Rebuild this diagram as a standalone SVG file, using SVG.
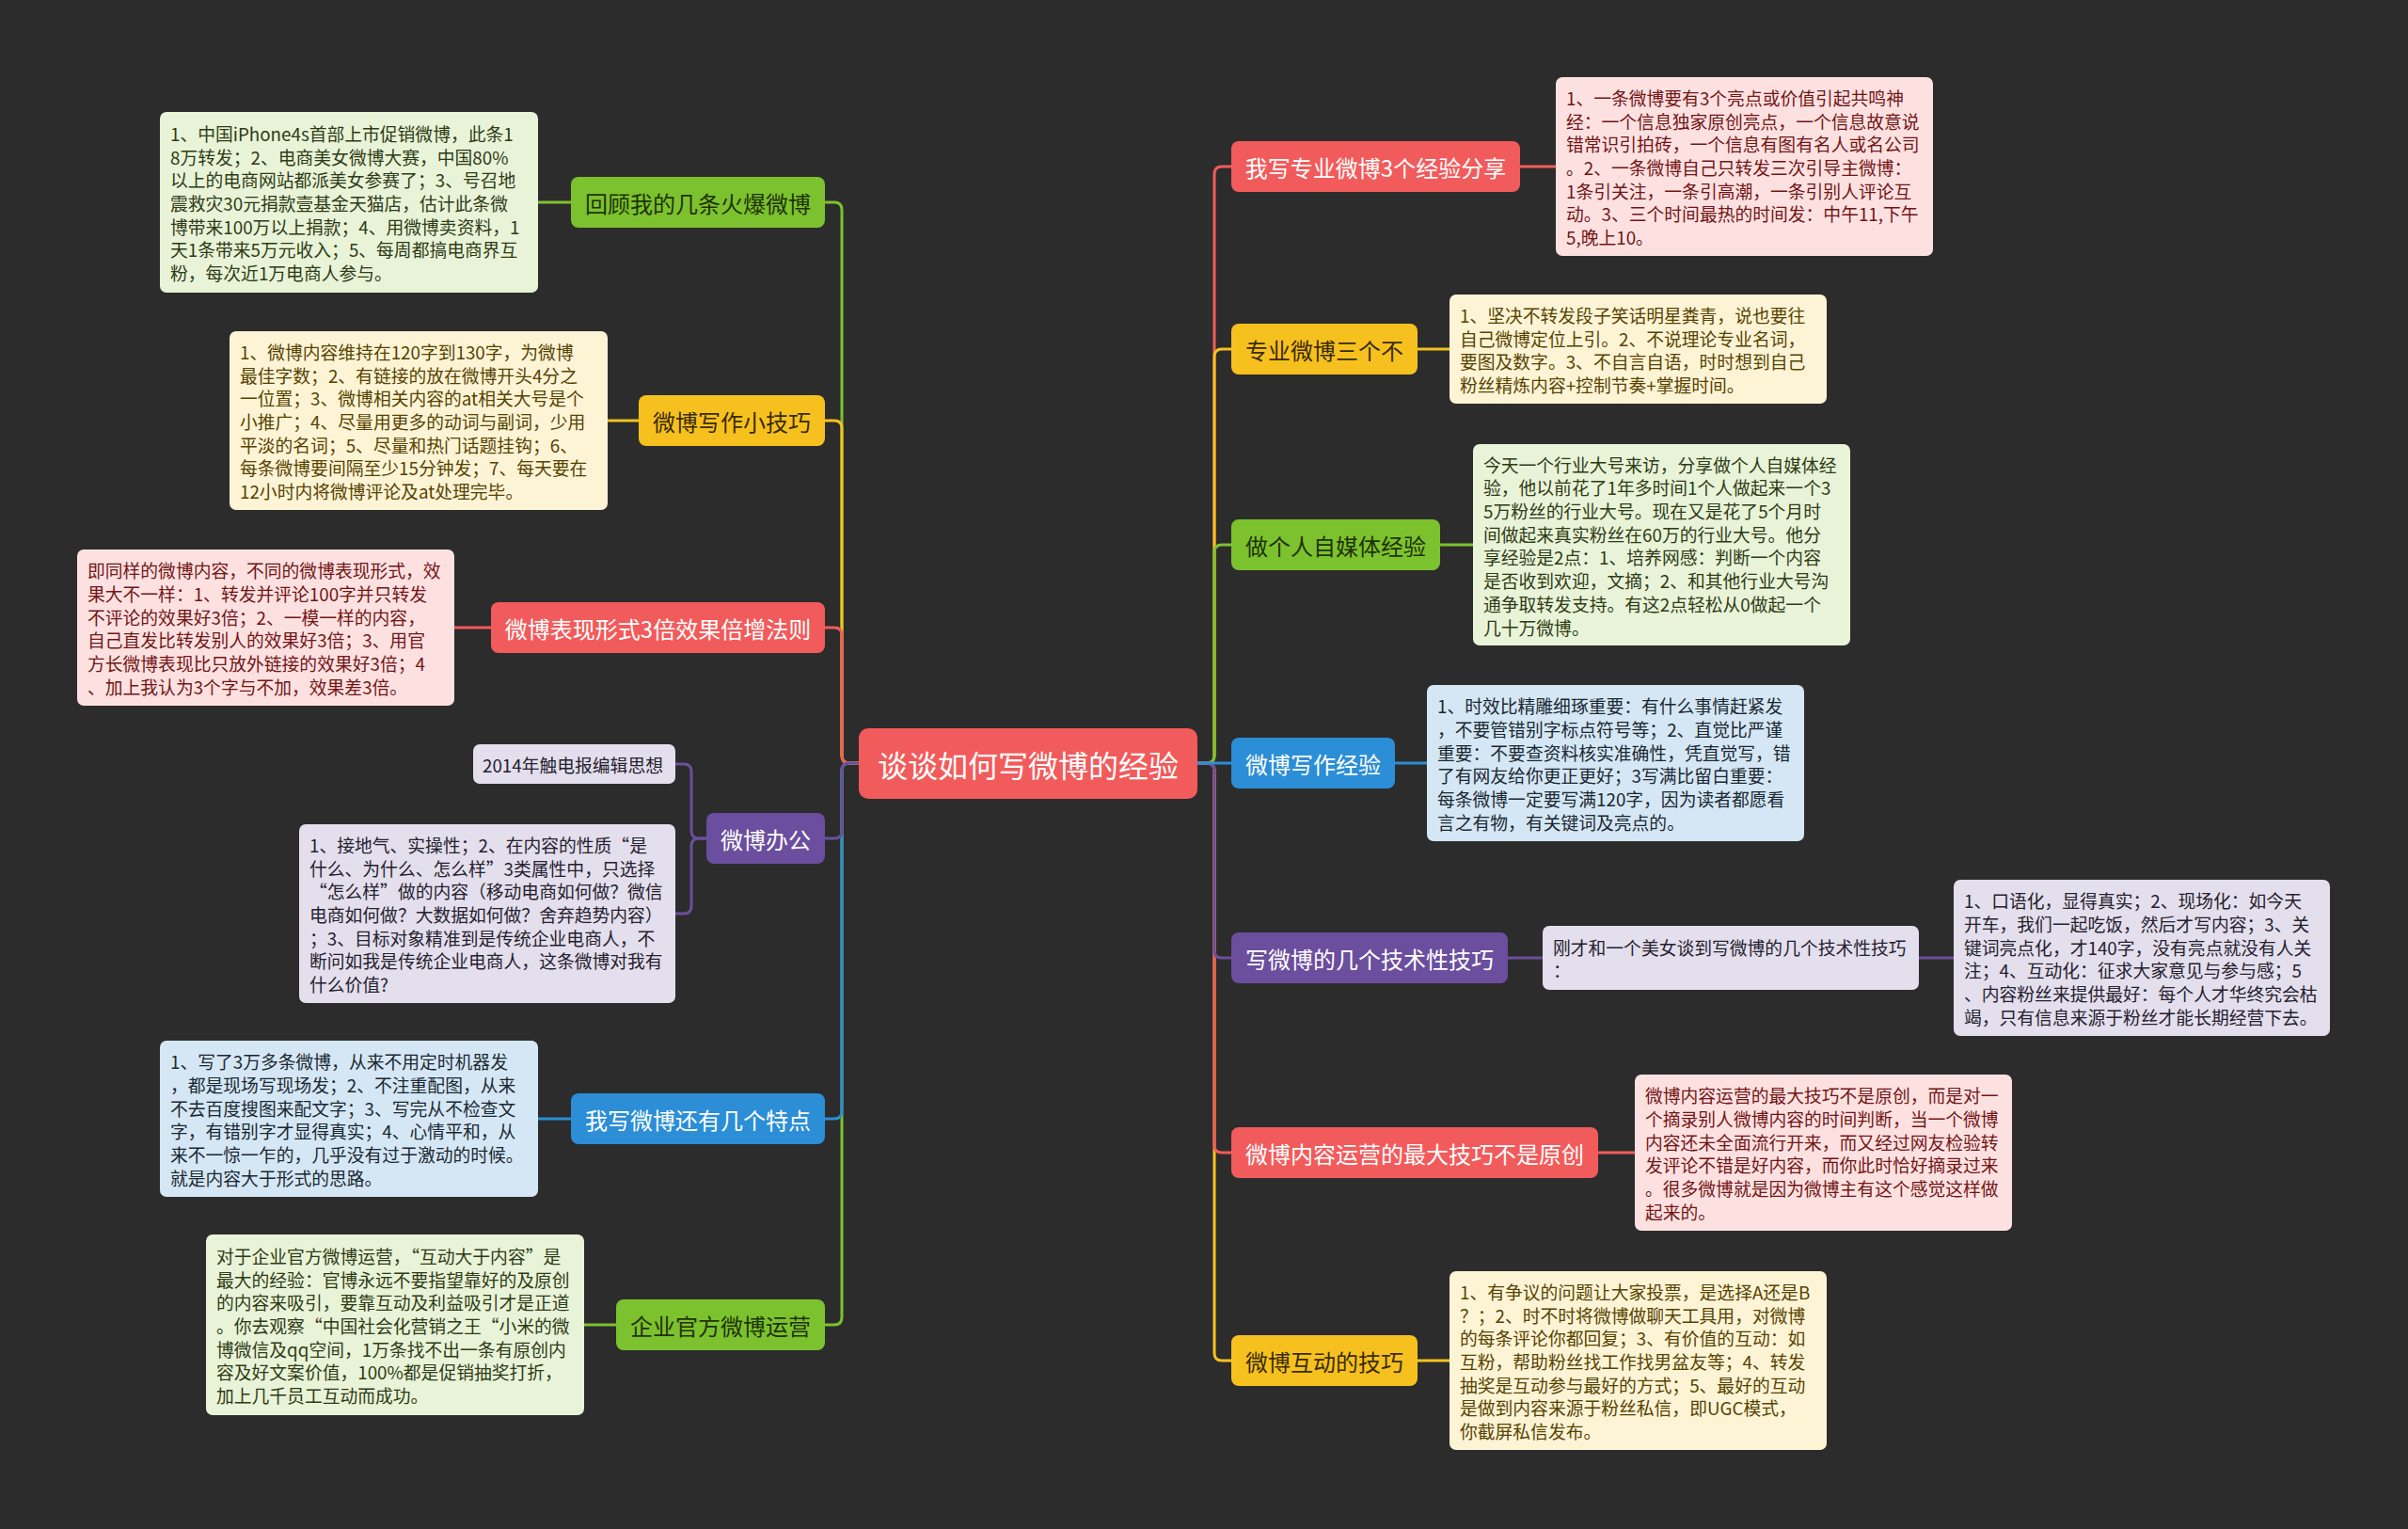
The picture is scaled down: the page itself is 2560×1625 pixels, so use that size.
<svg xmlns="http://www.w3.org/2000/svg" width="2560" height="1625" viewBox="0 0 2560 1625">
<style>
text{font-family:"Noto Sans CJK SC","Noto Sans",sans-serif;}
.tp{font-size:24px;text-anchor:middle;dominant-baseline:central;}
.ct{font-size:32px;text-anchor:middle;dominant-baseline:central;fill:#ffffff;}
.nt{font-size:18.8px;dominant-baseline:central;}
.ln{fill:none;stroke-width:3;stroke-linecap:round;stroke-linejoin:round;}
.cg{stroke:#7cc22e}.cy{stroke:#f6c11f}.cr{stroke:#f25b5b}.cp{stroke:#6b4e9d}.cb{stroke:#2b8ed6}
.fg{fill:#7cc22e}.fy{fill:#f6c11f}.fr{fill:#f25b5b}.fp{fill:#6b4e9d}.fb{fill:#2b8ed6}
.tg{fill:#1f3205}.ty{fill:#3a2b00}.tr{fill:#ffffff}.tpu{fill:#ffffff}.tb{fill:#ffffff}
.ng{fill:#e9f3d8}.ny{fill:#fdf4d6}.nr{fill:#fde1e1}.np{fill:#e3dfec}.nb{fill:#d5e7f4}
.xg{fill:#2e3b15}.xy{fill:#574300}.xr{fill:#731515}.xp{fill:#25212f}.xb{fill:#1a2833}
</style>
<rect x="0" y="0" width="2560" height="1625" fill="#2c2c2c"/>

<g id="connectors">
<path class="ln cg" d="M913,811 H903 Q895,811 895,819 V1400 Q895,1408 887,1408 H877"/>
<path class="ln cg" d="M913,811 H903 Q895,811 895,803 V223 Q895,215 887,215 H877"/>
<path class="ln cb" d="M913,811 H903 Q895,811 895,819 V1181 Q895,1189 887,1189 H877"/>
<path class="ln cy" d="M913,811 H903 Q895,811 895,803 V455 Q895,447 887,447 H877"/>
<path class="ln cr" d="M913,811 H903 Q895,811 895,803 V675 Q895,667 887,667 H877"/>
<path class="ln cp" d="M913,811 H903 Q895,811 895,819 V883 Q895,891 887,891 H877"/>
<path class="ln cr" d="M1273,811 H1283 Q1291,811 1291,803 V185 Q1291,177 1299,177 H1309"/>
<path class="ln cy" d="M1273,811 H1283 Q1291,811 1291,803 V379 Q1291,371 1299,371 H1309"/>
<path class="ln cg" d="M1273,811 H1283 Q1291,811 1291,803 V587 Q1291,579 1299,579 H1309"/>
<path class="ln cy" d="M1273,811 H1283 Q1291,811 1291,819 V1438 Q1291,1446 1299,1446 H1309"/>
<path class="ln cr" d="M1273,811 H1283 Q1291,811 1291,819 V1217 Q1291,1225 1299,1225 H1309"/>
<path class="ln cp" d="M1273,811 H1283 Q1291,811 1291,819 V1010 Q1291,1018 1299,1018 H1309"/>
<path class="ln cb" d="M1273,811 H1309"/>
<path class="ln cg" d="M572,215 H607"/>
<path class="ln cy" d="M646,447 H679"/>
<path class="ln cr" d="M483,667 H522"/>
<path class="ln cp" d="M751,891 H743 Q735,891 735,883 V820 Q735,812 727,812 H718"/>
<path class="ln cp" d="M751,891 H743 Q735,891 735,899 V963 Q735,971 727,971 H718"/>
<path class="ln cb" d="M572,1189 H607"/>
<path class="ln cg" d="M621,1408 H655"/>
<path class="ln cr" d="M1616,177 H1654"/>
<path class="ln cy" d="M1507,371 H1541"/>
<path class="ln cg" d="M1531,579 H1566"/>
<path class="ln cb" d="M1483,811 H1517"/>
<path class="ln cp" d="M1603,1018 H1640"/>
<path class="ln cp" d="M2040,1018 H2077"/>
<path class="ln cr" d="M1699,1225 H1738"/>
<path class="ln cy" d="M1507,1446 H1541"/>
</g>

<g id="center">
<rect x="913" y="774" width="360" height="75" rx="10" class="fr"/>
<text class="ct" x="1093" y="811.5">谈谈如何写微博的经验</text>
</g>

<g id="topic-l1">
<rect x="607" y="188" width="270" height="54" rx="8" class="fg"/>
<text class="tp tg" x="742" y="215">回顾我的几条火爆微博</text>
</g>
<g id="topic-l2">
<rect x="679" y="420" width="198" height="54" rx="8" class="fy"/>
<text class="tp ty" x="778" y="447">微博写作小技巧</text>
</g>
<g id="topic-l3">
<rect x="522" y="640" width="355" height="54" rx="8" class="fr"/>
<text class="tp tr" x="699.5" y="667">微博表现形式3倍效果倍增法则</text>
</g>
<g id="topic-l4">
<rect x="751" y="864" width="126" height="54" rx="8" class="fp"/>
<text class="tp tpu" x="814" y="891">微博办公</text>
</g>
<g id="topic-l5">
<rect x="607" y="1162" width="270" height="54" rx="8" class="fb"/>
<text class="tp tb" x="742" y="1189">我写微博还有几个特点</text>
</g>
<g id="topic-l6">
<rect x="655" y="1381" width="222" height="54" rx="8" class="fg"/>
<text class="tp tg" x="766" y="1408">企业官方微博运营</text>
</g>

<g id="topic-r1">
<rect x="1309" y="150" width="307" height="54" rx="8" class="fr"/>
<text class="tp tr" x="1462.5" y="177">我写专业微博3个经验分享</text>
</g>
<g id="topic-r2">
<rect x="1309" y="344" width="198" height="54" rx="8" class="fy"/>
<text class="tp ty" x="1408" y="371">专业微博三个不</text>
</g>
<g id="topic-r3">
<rect x="1309" y="552" width="222" height="54" rx="8" class="fg"/>
<text class="tp tg" x="1420" y="579">做个人自媒体经验</text>
</g>
<g id="topic-r4">
<rect x="1309" y="784" width="174" height="54" rx="8" class="fb"/>
<text class="tp tb" x="1396" y="811">微博写作经验</text>
</g>
<g id="topic-r5">
<rect x="1309" y="991" width="294" height="54" rx="8" class="fp"/>
<text class="tp tpu" x="1456" y="1018">写微博的几个技术性技巧</text>
</g>
<g id="topic-r6">
<rect x="1309" y="1198" width="390" height="54" rx="8" class="fr"/>
<text class="tp tr" x="1504" y="1225">微博内容运营的最大技巧不是原创</text>
</g>
<g id="topic-r7">
<rect x="1309" y="1419" width="198" height="54" rx="8" class="fy"/>
<text class="tp ty" x="1408" y="1446">微博互动的技巧</text>
</g>

<g id="note-l1">
<rect x="170" y="119" width="402" height="192" rx="7" class="ng"/>
<text class="nt xg"><tspan x="181" y="140.9">1、中国iPhone4s首部上市促销微博，此条1</tspan><tspan x="181" y="165.6">8万转发；2、电商美女微博大赛，中国80%</tspan><tspan x="181" y="190.3">以上的电商网站都派美女参赛了；3、号召地</tspan><tspan x="181" y="215">震救灾30元捐款壹基金天猫店，估计此条微</tspan><tspan x="181" y="239.7">博带来100万以上捐款；4、用微博卖资料，1</tspan><tspan x="181" y="264.4">天1条带来5万元收入；5、每周都搞电商界互</tspan><tspan x="181" y="289.1">粉，每次近1万电商人参与。</tspan></text>
</g>
<g id="note-l2">
<rect x="244" y="352" width="402" height="190" rx="7" class="ny"/>
<text class="nt xy"><tspan x="255" y="372.9">1、微博内容维持在120字到130字，为微博</tspan><tspan x="255" y="397.6">最佳字数；2、有链接的放在微博开头4分之</tspan><tspan x="255" y="422.3">一位置；3、微博相关内容的at相关大号是个</tspan><tspan x="255" y="447">小推广；4、尽量用更多的动词与副词，少用</tspan><tspan x="255" y="471.7">平淡的名词；5、尽量和热门话题挂钩；6、</tspan><tspan x="255" y="496.4">每条微博要间隔至少15分钟发；7、每天要在</tspan><tspan x="255" y="521.1">12小时内将微博评论及at处理完毕。</tspan></text>
</g>
<g id="note-l3">
<rect x="82" y="584" width="401" height="166" rx="7" class="nr"/>
<text class="nt xr"><tspan x="93" y="605.3">即同样的微博内容，不同的微博表现形式，效</tspan><tspan x="93" y="630">果大不一样：1、转发并评论100字并只转发</tspan><tspan x="93" y="654.7">不评论的效果好3倍；2、一模一样的内容，</tspan><tspan x="93" y="679.4">自己直发比转发别人的效果好3倍；3、用官</tspan><tspan x="93" y="704.1">方长微博表现比只放外链接的效果好3倍；4</tspan><tspan x="93" y="728.8">、加上我认为3个字与不加，效果差3倍。</tspan></text>
</g>
<g id="note-l4a">
<rect x="503" y="791" width="215" height="42" rx="7" class="np"/>
<text class="nt xp" x="513" y="812">2014年触电报编辑思想</text>
</g>
<g id="note-l4b">
<rect x="318" y="876" width="400" height="190" rx="7" class="np"/>
<text class="nt xp"><tspan x="329" y="896.9">1、接地气、实操性；2、在内容的性质“是</tspan><tspan x="329" y="921.6">什么、为什么、怎么样”3类属性中，只选择</tspan><tspan x="329" y="946.3">“怎么样”做的内容（移动电商如何做？微信</tspan><tspan x="329" y="971">电商如何做？大数据如何做？舍弃趋势内容）</tspan><tspan x="329" y="995.7">；3、目标对象精准到是传统企业电商人，不</tspan><tspan x="329" y="1020.4">断问如我是传统企业电商人，这条微博对我有</tspan><tspan x="329" y="1045.1">什么价值?</tspan></text>
</g>
<g id="note-l5">
<rect x="170" y="1106" width="402" height="166" rx="7" class="nb"/>
<text class="nt xb"><tspan x="181" y="1127.3">1、写了3万多条微博，从来不用定时机器发</tspan><tspan x="181" y="1152">，都是现场写现场发；2、不注重配图，从来</tspan><tspan x="181" y="1176.7">不去百度搜图来配文字；3、写完从不检查文</tspan><tspan x="181" y="1201.4">字，有错别字才显得真实；4、心情平和，从</tspan><tspan x="181" y="1226.1">来不一惊一乍的，几乎没有过于激动的时候。</tspan><tspan x="181" y="1250.8">就是内容大于形式的思路。</tspan></text>
</g>
<g id="note-l6">
<rect x="219" y="1312" width="402" height="192" rx="7" class="ng"/>
<text class="nt xg"><tspan x="230" y="1333.9">对于企业官方微博运营，“互动大于内容”是</tspan><tspan x="230" y="1358.6">最大的经验：官博永远不要指望靠好的及原创</tspan><tspan x="230" y="1383.3">的内容来吸引，要靠互动及利益吸引才是正道</tspan><tspan x="230" y="1408">。你去观察“中国社会化营销之王“小米的微</tspan><tspan x="230" y="1432.7">博微信及qq空间，1万条找不出一条有原创内</tspan><tspan x="230" y="1457.4">容及好文案价值，100%都是促销抽奖打折，</tspan><tspan x="230" y="1482.1">加上几千员工互动而成功。</tspan></text>
</g>

<g id="note-r1">
<rect x="1654" y="82" width="401" height="190" rx="7" class="nr"/>
<text class="nt xr"><tspan x="1665" y="102.9">1、一条微博要有3个亮点或价值引起共鸣神</tspan><tspan x="1665" y="127.6">经：一个信息独家原创亮点，一个信息故意说</tspan><tspan x="1665" y="152.3">错常识引拍砖，一个信息有图有名人或名公司</tspan><tspan x="1665" y="177">。2、一条微博自己只转发三次引导主微博：</tspan><tspan x="1665" y="201.7">1条引关注，一条引高潮，一条引别人评论互</tspan><tspan x="1665" y="226.4">动。3、三个时间最热的时间发：中午11,下午</tspan><tspan x="1665" y="251.1">5,晚上10。</tspan></text>
</g>
<g id="note-r2">
<rect x="1541" y="313" width="401" height="116" rx="7" class="ny"/>
<text class="nt xy"><tspan x="1552" y="334">1、坚决不转发段子笑话明星粪青，说也要往</tspan><tspan x="1552" y="358.7">自己微博定位上引。2、不说理论专业名词，</tspan><tspan x="1552" y="383.4">要图及数字。3、不自言自语，时时想到自己</tspan><tspan x="1552" y="408.1">粉丝精炼内容+控制节奏+掌握时间。</tspan></text>
</g>
<g id="note-r3">
<rect x="1566" y="472" width="401" height="214" rx="7" class="ng"/>
<text class="nt xg"><tspan x="1577" y="492.6">今天一个行业大号来访，分享做个人自媒体经</tspan><tspan x="1577" y="517.3">验，他以前花了1年多时间1个人做起来一个3</tspan><tspan x="1577" y="542">5万粉丝的行业大号。现在又是花了5个月时</tspan><tspan x="1577" y="566.7">间做起来真实粉丝在60万的行业大号。他分</tspan><tspan x="1577" y="591.4">享经验是2点：1、培养网感：判断一个内容</tspan><tspan x="1577" y="616.1">是否收到欢迎，文摘；2、和其他行业大号沟</tspan><tspan x="1577" y="640.8">通争取转发支持。有这2点轻松从0做起一个</tspan><tspan x="1577" y="665.5">几十万微博。</tspan></text>
</g>
<g id="note-r4">
<rect x="1517" y="728" width="401" height="166" rx="7" class="nb"/>
<text class="nt xb"><tspan x="1528" y="749.3">1、时效比精雕细琢重要：有什么事情赶紧发</tspan><tspan x="1528" y="774">，不要管错别字标点符号等；2、直觉比严谨</tspan><tspan x="1528" y="798.7">重要：不要查资料核实准确性，凭直觉写，错</tspan><tspan x="1528" y="823.4">了有网友给你更正更好；3写满比留白重要：</tspan><tspan x="1528" y="848.1">每条微博一定要写满120字，因为读者都愿看</tspan><tspan x="1528" y="872.8">言之有物，有关键词及亮点的。</tspan></text>
</g>
<g id="note-r5a">
<rect x="1640" y="984" width="400" height="68" rx="7" class="np"/>
<text class="nt xp"><tspan x="1651" y="1005.7">刚才和一个美女谈到写微博的几个技术性技巧</tspan><tspan x="1651" y="1030.4">：</tspan></text>
</g>
<g id="note-r5b">
<rect x="2077" y="935" width="400" height="166" rx="7" class="np"/>
<text class="nt xp"><tspan x="2088" y="956.3">1、口语化，显得真实；2、现场化：如今天</tspan><tspan x="2088" y="981">开车，我们一起吃饭，然后才写内容；3、关</tspan><tspan x="2088" y="1005.7">键词亮点化，才140字，没有亮点就没有人关</tspan><tspan x="2088" y="1030.4">注；4、互动化：征求大家意见与参与感；5</tspan><tspan x="2088" y="1055.1">、内容粉丝来提供最好：每个人才华终究会枯</tspan><tspan x="2088" y="1079.8">竭，只有信息来源于粉丝才能长期经营下去。</tspan></text>
</g>
<g id="note-r6">
<rect x="1738" y="1142" width="401" height="166" rx="7" class="nr"/>
<text class="nt xr"><tspan x="1749" y="1163.3">微博内容运营的最大技巧不是原创，而是对一</tspan><tspan x="1749" y="1188">个摘录别人微博内容的时间判断，当一个微博</tspan><tspan x="1749" y="1212.7">内容还未全面流行开来，而又经过网友检验转</tspan><tspan x="1749" y="1237.4">发评论不错是好内容，而你此时恰好摘录过来</tspan><tspan x="1749" y="1262.1">。很多微博就是因为微博主有这个感觉这样做</tspan><tspan x="1749" y="1286.8">起来的。</tspan></text>
</g>
<g id="note-r7">
<rect x="1541" y="1351" width="401" height="190" rx="7" class="ny"/>
<text class="nt xy"><tspan x="1552" y="1371.9">1、有争议的问题让大家投票，是选择A还是B</tspan><tspan x="1552" y="1396.6">？；2、时不时将微博做聊天工具用，对微博</tspan><tspan x="1552" y="1421.3">的每条评论你都回复；3、有价值的互动：如</tspan><tspan x="1552" y="1446">互粉，帮助粉丝找工作找男盆友等；4、转发</tspan><tspan x="1552" y="1470.7">抽奖是互动参与最好的方式；5、最好的互动</tspan><tspan x="1552" y="1495.4">是做到内容来源于粉丝私信，即UGC模式，</tspan><tspan x="1552" y="1520.1">你截屏私信发布。</tspan></text>
</g>
</svg>
